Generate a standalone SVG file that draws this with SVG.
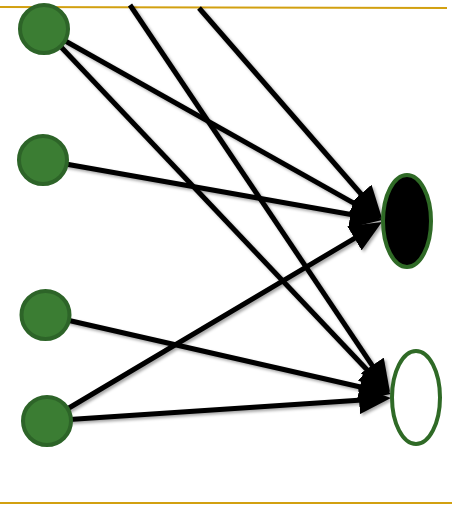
<svg xmlns="http://www.w3.org/2000/svg" width="452" height="505" viewBox="0 0 452 505">
  <defs>
    <style>
      .rule { stroke: #d2a010; stroke-width: 2; fill: none; }
      .edge { stroke: #000; stroke-width: 5; fill: none; marker-end: url(#arrow); }
      .src { fill: #3b7d33; stroke: #2d6428; stroke-width: 4; }
      .tgt { stroke: #2f6a26; stroke-width: 4; }
    </style>
    <marker id="arrow" viewBox="0 0 32 28" markerUnits="userSpaceOnUse" markerWidth="32" markerHeight="28" refX="22" refY="14" orient="auto">
      <path d="M0,0 L32,14 L0,28 z" fill="#000"/>
    </marker>
    <filter id="shadow" x="-10%" y="-10%" width="120%" height="120%">
      <feDropShadow dx="2" dy="2" stdDeviation="1.5" flood-color="#000" flood-opacity="0.35"/>
    </filter>
  </defs>
  <rect width="452" height="505" fill="#fff"/>
  <line class="rule" x1="0" y1="7" x2="447" y2="8"/>
  <line class="rule" x1="0" y1="503" x2="452" y2="503"/>
  <g id="connectors" filter="url(#shadow)">
    <line class="edge" x1="44" y1="29" x2="373.3" y2="214.1"/>
    <line class="edge" x1="44" y1="29" x2="383.1" y2="386.7"/>
    <line class="edge" x1="130" y1="5" x2="384.4" y2="383.7"/>
    <line class="edge" x1="199" y1="8" x2="375.4" y2="210.5"/>
    <line class="edge" x1="43" y1="160" x2="372.2" y2="218.3"/>
    <line class="edge" x1="45" y1="315" x2="381.3" y2="391.8"/>
    <line class="edge" x1="47" y1="421" x2="373.4" y2="227.1"/>
    <line class="edge" x1="47" y1="421" x2="381.0" y2="398.7"/>
  </g>
  <g id="n1"><circle class="src" cx="44" cy="29" r="24"/></g>
  <g id="n2"><circle class="src" cx="43" cy="160" r="24"/></g>
  <g id="n3"><circle class="src" cx="45.5" cy="315" r="24"/></g>
  <g id="n4"><circle class="src" cx="47" cy="421" r="24"/></g>
  <g id="out1"><ellipse class="tgt" cx="407" cy="221" rx="24" ry="46" fill="#000"/></g>
  <g id="out2"><ellipse class="tgt" cx="416" cy="397.5" rx="24" ry="46.5" fill="#fff"/></g>
</svg>
